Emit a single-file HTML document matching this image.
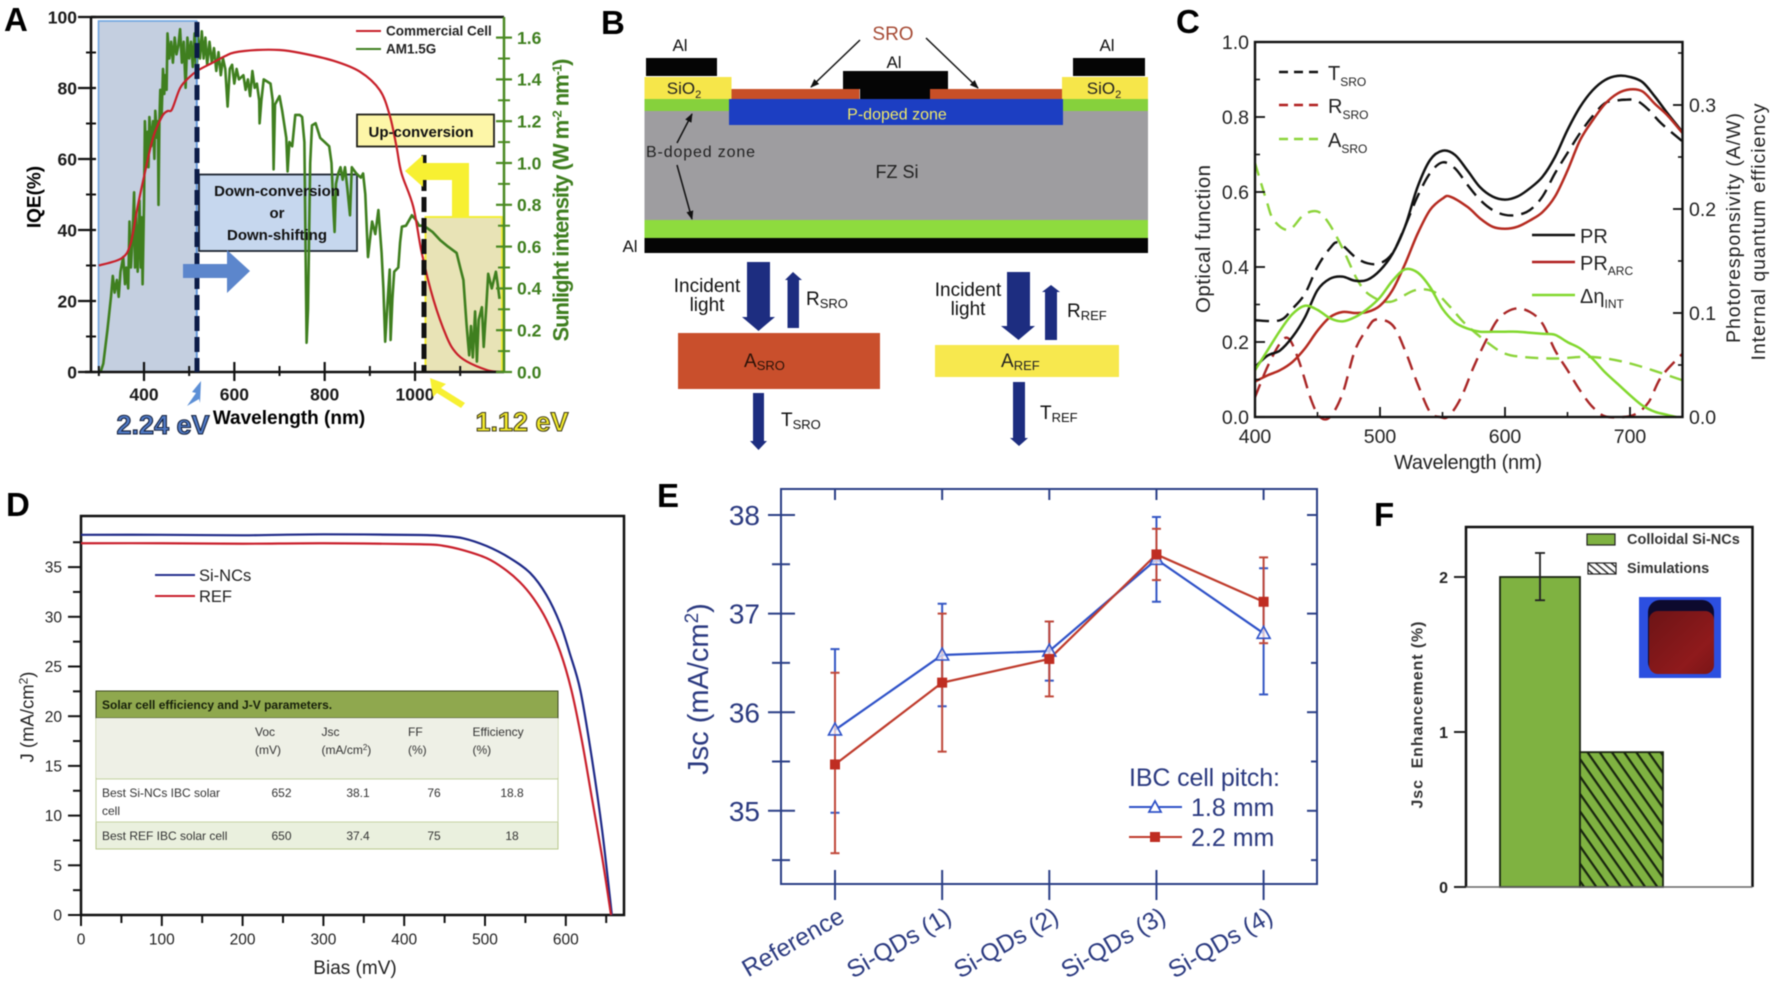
<!DOCTYPE html>
<html lang="en">
<head>
<meta charset="utf-8">
<title>Silicon solar cell spectral conversion figure</title>
<style>
html,body{margin:0;padding:0;background:#fff;width:1772px;height:984px;overflow:hidden}
svg{display:block;font-family:"Liberation Sans",sans-serif;filter:blur(.5px)}
</style>
</head>
<body>
<svg id="fig" xmlns="http://www.w3.org/2000/svg" width="1772" height="984" viewBox="0 0 1772 984">
<defs>
<marker id="ah" markerWidth="9" markerHeight="8" refX="8" refY="4" orient="auto" markerUnits="userSpaceOnUse"><path d="M0,0.5 L9,4 L0,7.5 Z" fill="#111"/></marker>
<pattern id="hatch" width="10" height="10" patternUnits="userSpaceOnUse" patternTransform="rotate(55)"><rect width="10" height="10" fill="#7fb241"/><rect width="10" height="2.200" y="0" fill="#17240e"/></pattern>
<pattern id="hatch2" width="5" height="5" patternUnits="userSpaceOnUse" patternTransform="rotate(40)"><rect width="5" height="5" fill="#fff"/><rect width="5" height="1.500" fill="#333"/></pattern>
<linearGradient id="photoRed" x1="0" y1="0" x2="1" y2="1"><stop offset="0" stop-color="#6d1416"/><stop offset=".7" stop-color="#8f1a1c"/><stop offset="1" stop-color="#7a1517"/></linearGradient>
</defs>

<!-- PANEL A -->
<g id="panelA">
<text x="4" y="31" font-size="33" font-weight="700">A</text>
<rect x="98.500" y="21" width="98" height="351" fill="#c4cfe0" stroke="#6fa5e0" stroke-width="1.600"/>
<rect x="425.500" y="217" width="76.500" height="155" fill="#e8e3b6" stroke="#f3ee35" stroke-width="2"/>
<rect x="199" y="174.500" width="158" height="76.500" fill="#c6d7ee" stroke="#1c2430" stroke-width="1.800"/>
<rect x="357" y="114.500" width="137" height="32" fill="#fdf6a8" stroke="#20201a" stroke-width="1.800"/>
<g id="aSeries"></g>
<line x1="91" y1="17" x2="504" y2="17" stroke="#111" stroke-width="2.500"/>
<line x1="91" y1="17" x2="91" y2="373" stroke="#111" stroke-width="2.500"/>
<line x1="85" y1="372" x2="504" y2="372" stroke="#111" stroke-width="2.500"/>
<line x1="504" y1="17" x2="504" y2="373" stroke="#4a8a22" stroke-width="2.500"/>
<g id="aAxes"></g>
<line x1="197" y1="21" x2="197" y2="372" stroke="#5c8fd6" stroke-width="1.500"/>
<line x1="197" y1="22" x2="197" y2="372" stroke="#0c1c48" stroke-width="5" stroke-dasharray="15 6"/>
<line x1="424" y1="155" x2="424" y2="372" stroke="#111" stroke-width="5" stroke-dasharray="15 6"/>
<polygon points="183,264 227,264 227,250 250,271 227,293 227,278 183,278" fill="#5c86cc"/>
<polygon points="405,171 423,155 423,163 469,163 469,218 452,218 452,180 423,180 423,187" fill="#f7f032"/>
<polygon points="201,381 192,392 196,393 187,406 199,399 200,403" fill="#5c8fd6"/>
<polygon points="430,378 446,384 441,388 465,403 461,408 437,393 433,397" fill="#f7f032"/>
<text x="277" y="196" font-size="15" font-weight="700" text-anchor="middle" fill="#111">Down-conversion</text>
<text x="277" y="218" font-size="15" font-weight="700" text-anchor="middle" fill="#111">or</text>
<text x="277" y="240" font-size="15" font-weight="700" text-anchor="middle" fill="#111">Down-shifting</text>
<text x="421" y="137" font-size="15" font-weight="700" text-anchor="middle" fill="#111">Up-conversion</text>
<text x="34" y="197" font-size="19" font-weight="700" text-anchor="middle" transform="rotate(-90 34 197)" dy=".35em">IQE(%)</text>
<text x="289" y="424" font-size="19" font-weight="700" text-anchor="middle">Wavelength (nm)</text>
<text x="561" y="200" font-size="22" font-weight="700" text-anchor="middle" fill="#3f7f1f" transform="rotate(-90 561 200)" dy=".35em" textLength="283">Sunlight intensity (W m<tspan dy="-7" font-size="13">-2</tspan><tspan dy="7"> nm</tspan><tspan dy="-7" font-size="13">-1</tspan><tspan dy="7">)</tspan></text>
<text x="163" y="434" font-size="27" font-weight="700" text-anchor="middle" fill="#4f79c4" stroke="#16223e" stroke-width="1.100">2.24 eV</text>
<text x="522" y="431" font-size="27" font-weight="700" text-anchor="middle" fill="#f2ea2c" stroke="#44401a" stroke-width="1.100">1.12 eV</text>
<line x1="356" y1="31" x2="381" y2="31" stroke="#c8202a" stroke-width="2"/>
<text x="386" y="35.500" font-size="13.500" font-weight="700" fill="#222">Commercial Cell</text>
<line x1="356" y1="49" x2="381" y2="49" stroke="#3f7f1f" stroke-width="2"/>
<text x="386" y="53.500" font-size="13.500" font-weight="700" fill="#222">AM1.5G</text>
</g>

<!-- PANEL B -->
<g id="panelB">
<text x="601" y="34" font-size="33" font-weight="700">B</text>
<rect x="644.500" y="111" width="503.500" height="109" fill="#9e9da0"/>
<rect x="644.500" y="99" width="85" height="12" fill="#86d13c"/>
<rect x="1062" y="99" width="86" height="12" fill="#86d13c"/>
<rect x="644.500" y="220" width="503.500" height="18" fill="#8edb3e"/>
<rect x="644.500" y="238" width="503.500" height="15" fill="#050505"/>
<rect x="729" y="99" width="334" height="26" fill="#1c3ec2"/>
<rect x="644.500" y="77" width="87" height="22" fill="#f6e64a"/>
<rect x="1062" y="77" width="86" height="22" fill="#f6e64a"/>
<rect x="646" y="58" width="71" height="18" fill="#050505"/>
<rect x="1073" y="58" width="72" height="18" fill="#050505"/>
<rect x="731.500" y="89" width="128" height="10" fill="#c84f27"/>
<rect x="930" y="89" width="132" height="10" fill="#c84f27"/>
<polygon points="843,71 948,71 948,89 930,89 930,99 860,99 860,89 843,89" fill="#050505"/>
<line x1="860" y1="40" x2="811" y2="87" stroke="#111" stroke-width="1.500" marker-end="url(#ah)"/>
<line x1="926" y1="38" x2="978" y2="88" stroke="#111" stroke-width="1.500" marker-end="url(#ah)"/>
<line x1="677" y1="143" x2="692" y2="114" stroke="#111" stroke-width="1.500" marker-end="url(#ah)"/>
<line x1="677" y1="165" x2="692" y2="219" stroke="#111" stroke-width="1.500" marker-end="url(#ah)"/>
<text x="893" y="40" font-size="19" text-anchor="middle" fill="#a64b35">SRO</text>
<text x="680" y="51" font-size="17" text-anchor="middle" fill="#111">Al</text>
<text x="894" y="68" font-size="17" text-anchor="middle" fill="#111">Al</text>
<text x="1107" y="51" font-size="17" text-anchor="middle" fill="#111">Al</text>
<text x="630" y="252" font-size="17" text-anchor="middle" fill="#111">Al</text>
<text x="684" y="94" font-size="17" text-anchor="middle" fill="#222">SiO<tspan dy="4" font-size="11">2</tspan></text>
<text x="1104" y="94" font-size="17" text-anchor="middle" fill="#222">SiO<tspan dy="4" font-size="11">2</tspan></text>
<text x="897" y="119.500" font-size="16" text-anchor="middle" fill="#efe86a">P-doped zone</text>
<text x="646" y="157" font-size="16" fill="#222" textLength="109">B-doped zone</text>
<text x="897" y="178" font-size="18" text-anchor="middle" fill="#222">FZ Si</text>

<polygon points="747,262 770,262 770,317 775,317 758.500,331 742,317 747,317" fill="#1d2d80"/>
<polygon points="787.500,328 799,328 799,280 802,280 793,272 785,280 787.500,280" fill="#1d2d80"/>
<rect x="678" y="333" width="202" height="56" fill="#c94f2c"/>
<polygon points="753,393 764,393 764,441 767,441 758.500,450 750,441 753,441" fill="#1d2d80"/>
<polygon points="1007,272 1030,272 1030,326 1035,326 1018.500,340 1001,326 1007,326" fill="#1d2d80"/>
<polygon points="1045,340 1057,340 1057,292 1060,292 1051,285 1042,292 1045,292" fill="#1d2d80"/>
<rect x="935" y="345" width="184" height="32" fill="#f7e84e"/>
<polygon points="1013,382 1025,382 1025,438 1028,438 1019,446 1010,438 1013,438" fill="#1d2d80"/>
<text x="707" y="292" font-size="19" text-anchor="middle" fill="#111">Incident</text>
<text x="707" y="311" font-size="19" text-anchor="middle" fill="#111">light</text>
<text x="968" y="296" font-size="19" text-anchor="middle" fill="#111">Incident</text>
<text x="968" y="315" font-size="19" text-anchor="middle" fill="#111">light</text>
<text x="806" y="305" font-size="19" fill="#111">R<tspan dy="3" font-size="13">SRO</tspan></text>
<text x="1067" y="317" font-size="19" fill="#111">R<tspan dy="3" font-size="13">REF</tspan></text>
<text x="781" y="426" font-size="19" fill="#111">T<tspan dy="3" font-size="13">SRO</tspan></text>
<text x="1040" y="419" font-size="19" fill="#111">T<tspan dy="3" font-size="13">REF</tspan></text>
<text x="744" y="367" font-size="19" fill="#2a1208">A<tspan dy="3" font-size="13">SRO</tspan></text>
<text x="1001" y="367" font-size="19" fill="#222">A<tspan dy="3" font-size="13">REF</tspan></text>
</g>

<!-- PANEL C -->
<g id="panelC">
<text x="1176" y="33" font-size="33" font-weight="700">C</text>
<g id="cSeries"></g>
<rect x="1255" y="42" width="427.500" height="375" fill="none" stroke="#111" stroke-width="2.400"/>
<g id="cAxes"></g>
<text x="1203" y="239" font-size="20.500" text-anchor="middle" fill="#222" dy=".35em" transform="rotate(-90 1203 239)" textLength="148">Optical function</text>
<text x="1468" y="469" font-size="20" text-anchor="middle" fill="#222" textLength="148">Wavelength (nm)</text>
<text x="1733" y="228" font-size="19.500" text-anchor="middle" fill="#222" dy=".35em" transform="rotate(-90 1733 228)" textLength="230">Photoresponsivity (A/W)</text>
<text x="1758" y="232" font-size="19.500" text-anchor="middle" fill="#222" dy=".35em" transform="rotate(-90 1758 232)" textLength="257">Internal quantum efficiency</text>
<line x1="1279" y1="72" x2="1323" y2="72" stroke="#111" stroke-width="2.400" stroke-dasharray="9 6"/>
<text x="1328" y="80" font-size="20" fill="#222">T<tspan dy="6" font-size="12">SRO</tspan></text>
<line x1="1279" y1="105" x2="1323" y2="105" stroke="#b01f1f" stroke-width="2.400" stroke-dasharray="9 6"/>
<text x="1328" y="113" font-size="20" fill="#222">R<tspan dy="6" font-size="12">SRO</tspan></text>
<line x1="1279" y1="139" x2="1323" y2="139" stroke="#8cd43a" stroke-width="2.400" stroke-dasharray="9 6"/>
<text x="1328" y="147" font-size="20" fill="#222">A<tspan dy="6" font-size="12">SRO</tspan></text>
<line x1="1532" y1="235" x2="1575" y2="235" stroke="#111" stroke-width="2.400"/>
<text x="1580" y="243" font-size="20" fill="#222">PR</text>
<line x1="1532" y1="262" x2="1575" y2="262" stroke="#b01f1f" stroke-width="2.400"/>
<text x="1580" y="270" font-size="20" fill="#222">PR<tspan dy="5" font-size="12">ARC</tspan></text>
<line x1="1532" y1="295" x2="1575" y2="295" stroke="#82d82e" stroke-width="2.400"/>
<text x="1580" y="303" font-size="20" fill="#222">Δη<tspan dy="5" font-size="12">INT</tspan></text>
</g>

<!-- PANEL D -->
<g id="panelD">
<text x="6" y="516" font-size="33" font-weight="700">D</text>
<rect x="81" y="516" width="543" height="399" fill="none" stroke="#111" stroke-width="2.500"/>
<g id="dAxes"></g>
<text x="27" y="717" font-size="18.500" text-anchor="middle" fill="#222" dy=".35em" transform="rotate(-90 27 717)">J (mA/cm<tspan dy="-6" font-size="12">2</tspan><tspan dy="6">)</tspan></text>
<text x="355" y="974" font-size="19" text-anchor="middle" fill="#222">Bias (mV)</text>
<line x1="155" y1="575" x2="195" y2="575" stroke="#27318f" stroke-width="2"/>
<text x="199" y="581" font-size="16.500" fill="#222">Si-NCs</text>
<line x1="155" y1="596" x2="195" y2="596" stroke="#c9202c" stroke-width="2"/>
<text x="199" y="602" font-size="16.500" fill="#222">REF</text>
<g>
<rect x="96" y="691" width="462" height="158" fill="#eaf0de" stroke="#b9c98c" stroke-width="1"/>
<rect x="96" y="691" width="462" height="27" fill="#8fa84e" stroke="#3e4a22" stroke-width="1"/>
<rect x="96" y="718" width="462" height="60" fill="#eef0e6"/>
<rect x="96" y="779" width="462" height="43" fill="#fff" stroke="#c5d3a2" stroke-width="1"/>
<text x="102" y="709" font-size="12" font-weight="700" fill="#17200a">Solar cell efficiency and J-V parameters.</text>
<g font-size="12" fill="#333">
<text x="255" y="736">Voc</text><text x="255" y="754">(mV)</text>
<text x="321.500" y="736">Jsc</text><text x="321.500" y="754">(mA/cm<tspan dy="-4" font-size="8">2</tspan><tspan dy="4">)</tspan></text>
<text x="408" y="736">FF</text><text x="408" y="754">(%)</text>
<text x="472.500" y="736">Efficiency</text><text x="472.500" y="754">(%)</text>
<text x="102" y="797">Best Si-NCs IBC solar</text><text x="102" y="815">cell</text>
<text x="281.500" y="797" text-anchor="middle">652</text><text x="358" y="797" text-anchor="middle">38.1</text><text x="434" y="797" text-anchor="middle">76</text><text x="512" y="797" text-anchor="middle">18.8</text>
<text x="102" y="840">Best REF IBC solar cell</text>
<text x="281.500" y="840" text-anchor="middle">650</text><text x="358" y="840" text-anchor="middle">37.4</text><text x="434" y="840" text-anchor="middle">75</text><text x="512" y="840" text-anchor="middle">18</text>
</g>
</g>
<g id="dSeries"></g>
</g>

<!-- PANEL E -->
<g id="panelE">
<text x="657" y="507" font-size="33" font-weight="700">E</text>
<rect x="781" y="489" width="536" height="395" fill="none" stroke="#2b3f86" stroke-width="2"/>
<g id="eAxes"></g>
<g id="eSeries"></g>
<text x="698" y="689" font-size="29" text-anchor="middle" fill="#2b3a80" dy=".35em" transform="rotate(-90 698 689)">Jsc (mA/cm<tspan dy="-10" font-size="19">2</tspan><tspan dy="10">)</tspan></text>
<text x="1129" y="786" font-size="25" fill="#2b3a80" textLength="151">IBC cell pitch:</text>
<line x1="1129" y1="807" x2="1182" y2="807" stroke="#2f52c8" stroke-width="2"/>
<polygon points="1155,801 1161,812 1149,812" fill="#fff" stroke="#2f52c8" stroke-width="1.800"/>
<text x="1191" y="816" font-size="25" fill="#2b3a80">1.8 mm</text>
<line x1="1129" y1="837" x2="1182" y2="837" stroke="#bf3b2c" stroke-width="2"/>
<rect x="1150" y="832" width="10" height="10" fill="#bf2d22"/>
<text x="1191" y="846" font-size="25" fill="#2b3a80">2.2 mm</text>
</g>

<!-- PANEL F -->
<g id="panelF">
<text x="1374" y="526" font-size="33" font-weight="700">F</text>
<g id="fSeries"></g>
<path d="M1466,887 V527 H1752.500 V887" fill="none" stroke="#111" stroke-width="2.500"/>
<line x1="1466" y1="887" x2="1752.500" y2="887" stroke="#666" stroke-width="1.500"/>
<g id="fAxes"></g>
<text x="1417" y="715" font-size="16" font-weight="700" text-anchor="middle" fill="#333" dy=".35em" transform="rotate(-90 1417 715)" textLength="187">Jsc&#160;&#160;Enhancement (%)</text>
<rect x="1587" y="534" width="28" height="11" fill="#7fb241" stroke="#222" stroke-width="1.200"/>
<text x="1627" y="544" font-size="14.500" font-weight="700" fill="#333">Colloidal Si-NCs</text>
<rect x="1588" y="563" width="28" height="11" fill="url(#hatch2)" stroke="#222" stroke-width="1.200"/>
<text x="1627" y="573" font-size="14.500" font-weight="700" fill="#333">Simulations</text>
<g>
<rect x="1639" y="597" width="82" height="81" fill="#2c4fe0"/>
<rect x="1648" y="600" width="66" height="74" rx="12" fill="#0d0a2e"/>
<rect x="1649" y="611" width="65" height="63" rx="9" fill="url(#photoRed)"/>
</g>
</g>
</svg>

<script>
/* ---------- Panel A data ---------- */
const aTickLeft = [0,20,40,60,80,100];
const aTickLeftMinor = [10,30,50,70,90];
const aTickBottom = [400,600,800,1000];
const aTickBottomMinor = [300,500,700,900,1100];
const aTickRight = [0,0.2,0.4,0.6,0.8,1.0,1.2,1.4,1.6];
const aTickRightMinor = [0.1,0.3,0.5,0.7,0.9,1.1,1.3,1.5];
const aTickRightText = ['0.0','0.2','0.4','0.6','0.8','1.0','1.2','1.4','1.6'];
const iqeWavelength = [300,350,370,385,400,420,440,452,462,480,500,520,550,580,600,650,700,745,819,878,922,944,959,970,996,1015,1041,1070,1090,1114,1158,1185];
const iqeValues = [30,32,36,46,55,66,72,73.5,74,80,83,85,87,89,90,90.7,90.7,89.9,87.7,84.6,79.4,72.3,63.5,56,46.6,33.5,20.3,9.9,5.5,3,0.6,0];
const am15Wavelength = [300,304,310,319,327,331,335,340,344,348,354,358,361,365,368,371,374,378,380,382,386,390,393,395,397,400,402,405,408,410,412,416,420,423,425,429,431,432,434,436,439,442,445,447,450,452,456,460,464,468,472,476,480,484,488,492,496,500,504,508,512,516,520,524,528,532,536,540,545,550,555,560,565,570,575,580,585,590,595,600,605,610,620,625,630,635,640,645,650,655,656,660,665,680,685,687,690,700,706,715,718,722,728,735,745,750,755,760,763,768,772,780,790,800,810,815,820,822,825,830,835,840,845,850,856,860,870,880,885,890,896,900,905,912,919,926,930,934,939,944,946,950,954,963,967,971,980,993,1001,1009,1018,1026,1039,1056,1073,1092,1100,1107,1114,1117,1120,1124,1128,1133,1137,1141,1148,1152,1158,1162,1170,1179,1183,1187];
const am15Irradiance = [0,0,0.04,0.2,0.36,0.46,0.38,0.44,0.36,0.48,0.55,0.42,0.5,0.4,0.72,0.5,0.62,0.86,0.5,0.76,0.48,0.82,0.5,0.74,0.42,0.8,1.2,0.98,1.15,0.98,1.22,1.08,1.2,1.02,1.25,1.12,1.2,0.8,1.2,1.35,1.22,1.45,1.33,1.42,1.35,1.62,1.5,1.58,1.48,1.6,1.52,1.56,1.64,1.48,1.58,1.36,1.6,1.5,1.58,1.46,1.62,1.42,1.6,1.5,1.63,1.5,1.6,1.47,1.58,1.48,1.55,1.44,1.53,1.42,1.5,1.45,1.27,1.45,1.47,1.38,1.45,1.4,1.42,1.35,1.4,1.32,1.44,1.36,1.38,1.3,1.19,1.3,1.4,1.38,1.3,0.97,1.28,1.32,1.25,1.12,0.96,1.1,1.08,1.23,1.23,1.22,1.1,0.14,0.3,1.0,1.18,1.19,1.12,1.1,1.08,1.0,0.75,0.67,0.9,0.95,0.98,0.92,0.98,0.88,0.75,0.98,0.95,0.93,0.95,0.85,0.55,0.63,0.72,0.66,0.775,0.57,0.4,0.145,0.33,0.49,0.153,0.35,0.48,0.5,0.62,0.695,0.70,0.75,0.73,0.7,0.7,0.69,0.67,0.63,0.6,0.57,0.5,0.44,0.23,0.15,0.08,0.22,0.07,0.29,0.05,0.25,0.31,0.12,0.32,0.47,0.4,0.48,0.42,0.35];

/* ---------- Panel C data ---------- */
const cTickX = [400,500,600,700];
const cTickXMinor = [450,550,650];
const cTickLeft = [0,0.2,0.4,0.6,0.8,1.0];
const cTickLeftMinor = [0.1,0.3,0.5,0.7,0.9];
const cTickLeftText = ['0.0','0.2','0.4','0.6','0.8','1.0'];
const cTickRight = [0,0.1,0.2,0.3];
const cTickRightMinor = [0.05,0.15,0.25,0.35];
const cTickRightText = ['0.0','0.1','0.2','0.3'];
const prX = [400,410,420,430,440,450,460,470,480,490,500,510,520,530,540,550,560,570,580,590,600,610,620,630,640,650,660,670,680,690,700,710,720,730,742];
const prValues = [.048,.059,.064,.077,.096,.122,.133,.135,.131,.132,.141,.157,.183,.221,.247,.256,.252,.237,.221,.212,.209,.212,.220,.231,.250,.276,.298,.314,.324,.328,.327,.322,.308,.292,.274];
const prArcX = [400,410,420,430,440,450,460,470,480,490,500,510,520,530,540,550,556,570,580,590,600,610,620,630,640,650,660,670,680,690,700,710,720,730,742];
const prArcValues = [.034,.040,.045,.053,.066,.083,.096,.101,.100,.101,.107,.122,.147,.176,.199,.210,.212,.202,.191,.183,.181,.183,.189,.197,.212,.237,.266,.285,.301,.311,.315,.313,.301,.290,.273];
const deltaEtaX = [400,410,420,430,440,450,460,470,480,490,500,510,520,530,540,550,560,570,580,590,600,610,620,630,640,650,660,670,680,690,700,710,720,730,737];
const deltaEtaValues = [.045,.064,.083,.099,.107,.103,.095,.092,.096,.104,.115,.131,.142,.139,.125,.104,.091,.085,.082,.082,.082,.082,.081,.080,.079,.072,.066,.056,.043,.032,.021,.011,.005,.002,0];
const tSroX = [400,420,430,440,450,460,467,480,490,500,510,520,530,540,550,560,570,580,590,600,610,620,630,640,650,660,670,680,690,695,705,715,725,742];
const tSroValues = [.258,.258,.289,.329,.401,.450,.465,.427,.410,.410,.437,.508,.588,.650,.679,.663,.619,.579,.552,.539,.539,.552,.588,.650,.704,.757,.802,.837,.844,.846,.844,.819,.783,.735];
const rSroX = [400,410,420,427,435,445,452,460,470,480,490,497,510,520,530,540,548,555,565,575,585,595,608,620,630,640,650,660,670,680,695,705,715,725,742];
const rSroValues = [.053,.134,.196,.209,.151,.045,0,0,.062,.178,.236,.260,.245,.178,.089,.013,0,.002,.053,.134,.205,.263,.289,.280,.249,.178,.125,.071,.027,.002,0,.009,.040,.107,.169];
const aSroX = [400,409,415,427,439,450,459,470,482,492,508,528,543,556,568,587,600,615,640,670,701,742];
const aSroValues = [.677,.579,.525,.499,.539,.548,.517,.450,.365,.325,.307,.338,.334,.294,.249,.196,.169,.160,.156,.160,.142,.098];

/* ---------- Panel D data ---------- */
const dTickX = [0,100,200,300,400,500,600];
const dTickXMinor = [50,150,250,350,450,550,650];
const dTickY = [0,5,10,15,20,25,30,35];
const dTickYMinor = [2.5,7.5,12.5,17.5,22.5,27.5,32.5,37.5];
const siNcsBias = [0,100,200,300,420,448,473,502,531,556,576,593,605,618,632,645,657];
const siNcsJ = [38.25,38.25,38.2,38.3,38.23,38.13,37.9,37.12,35.9,34.4,32.2,29.3,26.3,22.6,15.9,8.5,0];
const refBias = [0,100,200,300,420,448,473,502,523,543,560,576,593,607,620,632,645,656];
const refJ = [37.4,37.4,37.35,37.4,37.3,37.15,36.7,35.9,34.87,33.5,31.85,29.7,26.5,22.6,17.5,11.9,5.8,0];

/* ---------- Panel E data ---------- */
const eCategories = ['Reference','Si-QDs (1)','Si-QDs (2)','Si-QDs (3)','Si-QDs (4)'];
const eTickY = [35,36,37,38];
const eTickYMinor = [34.5,35.5,36.5,37.5];
const pitch18Values = [35.82,36.58,36.62,37.55,36.8];
const pitch18Upper = [36.64,37.1,36.92,37.98,37.46];
const pitch18Lower = [34.98,36.06,36.32,37.12,36.18];
const pitch22Values = [35.47,36.3,36.54,37.6,37.12];
const pitch22Upper = [36.4,37.0,36.92,37.86,37.57];
const pitch22Lower = [34.57,35.6,36.16,37.34,36.7];

/* ---------- Panel F data ---------- */
const fTickY = [0,1,2];
const fBarValues = [2.0,0.87];
const fBarNames = ['colloidal-si-ncs-bar','simulations-bar'];
const fErrorUpper = 2.155;
const fErrorLower = 1.85;

/* ---------- Scales ---------- */
const xA = v => 144 + (v-400)*0.4517;
const yAL = v => 372 - v*3.55;
const yAR = v => 372 - v*209;
const xC = v => 1255 + (v-400)*1.25;
const yCL = v => 417 - v*375;
const yCR = v => 417 - v*1040;
const xD = v => 81 + v*0.808;
const yD = v => 915 - v*9.94;
const xE = i => 835 + i*107.15;
const yE = v => 515 + (38-v)*98.6;
const yF = v => 887 - v*155;

/* ---------- Helpers ---------- */
const NS = 'http://www.w3.org/2000/svg';
function mk(tag, attrs, parent){
  const n = document.createElementNS(NS, tag);
  for (const k in attrs) n.setAttribute(k, attrs[k]);
  parent.appendChild(n);
  return n;
}
function smoothPath(xs, ys){
  let d = 'M' + xs[0].toFixed(2) + ',' + ys[0].toFixed(2);
  for (let i=0;i<xs.length-1;i++){
    const x0=xs[Math.max(i-1,0)], y0=ys[Math.max(i-1,0)], x1=xs[i], y1=ys[i], x2=xs[i+1], y2=ys[i+1], x3=xs[Math.min(i+2,xs.length-1)], y3=ys[Math.min(i+2,xs.length-1)];
    d += 'C'+(x1+(x2-x0)/6).toFixed(2)+','+(y1+(y2-y0)/6).toFixed(2)+' '+(x2-(x3-x1)/6).toFixed(2)+','+(y2-(y3-y1)/6).toFixed(2)+' '+x2.toFixed(2)+','+y2.toFixed(2);
  }
  return d;
}
function drawCurve(parent, xv, yv, sx, sy, style, curveName){
  const el = mk('path', Object.assign({d:smoothPath(xv.map(sx), yv.map(sy)), fill:'none'}, style), parent);
  
  
  return el;
}
function hTicks(parent, vals, scale, x1, x2, color, w, tickName){
  vals.forEach(v => {
    const el = mk('line', {x1:x1, x2:x2, y1:scale(v), y2:scale(v), stroke:color, 'stroke-width':w}, parent);
    
    
  });
}
function vTicks(parent, vals, scale, y1, y2, color, w, tickName){
  vals.forEach(v => {
    const el = mk('line', {y1:y1, y2:y2, x1:scale(v), x2:scale(v), stroke:color, 'stroke-width':w}, parent);
    
    
  });
}
function yLabels(parent, vals, texts, scale, x, anchor, style, labelName){
  vals.forEach((v,i) => {
    const el = mk('text', Object.assign({x:x, y:scale(v), dy:'.36em', 'text-anchor':anchor}, style), parent);
    el.textContent = texts[i];
    
    
  });
}
function xLabels(parent, vals, texts, scale, y, style, labelName){
  vals.forEach((v,i) => {
    const el = mk('text', Object.assign({x:scale(v), y:y, dy:'.36em', 'text-anchor':'middle'}, style), parent);
    el.textContent = texts[i];
    
    
  });
}

/* ---------- Panel A ---------- */
const aSeries = document.getElementById('aSeries');
const aAxes = document.getElementById('aAxes');
const am15Line = mk('polyline', {points:am15Wavelength.map((w,i)=>xA(w).toFixed(1)+','+yAR(am15Irradiance[i]).toFixed(1)).join(' '), fill:'none', stroke:'#3f7f1f', 'stroke-width':2.6, 'stroke-linejoin':'round'}, aSeries);


drawCurve(aSeries, iqeWavelength, iqeValues, xA, yAL, {stroke:'#c8202a','stroke-width':2.2}, 'commercial-cell-iqe-line');
hTicks(aAxes, aTickLeft, yAL, 78, 96, '#111', 2.2, 'iqe-major-tick');
hTicks(aAxes, aTickLeftMinor, yAL, 86, 96, '#111', 2, 'iqe-minor-tick');
vTicks(aAxes, aTickBottom, xA, 362, 381, '#111', 2.2, 'wavelength-major-tick');
vTicks(aAxes, aTickBottomMinor, xA, 366, 376, '#111', 2, 'wavelength-minor-tick');
hTicks(aAxes, aTickRight, yAR, 496, 512, '#4a8a22', 2.2, 'sunlight-major-tick');
hTicks(aAxes, aTickRightMinor, yAR, 498, 510, '#4a8a22', 2, 'sunlight-minor-tick');
const boldA = {'font-size':17.5,'font-weight':700,fill:'#1a1a1a'};
yLabels(aAxes, aTickLeft, aTickLeft.map(String), yAL, 77, 'end', boldA, 'iqe-tick-label');
xLabels(aAxes, aTickBottom, aTickBottom.map(String), xA, 394, boldA, 'wavelength-tick-label');
yLabels(aAxes, aTickRight, aTickRightText, yAR, 517, 'start', {'font-size':17.5,'font-weight':700,fill:'#3f7f1f'}, 'sunlight-tick-label');

/* ---------- Panel C ---------- */
const cSeries = document.getElementById('cSeries');
const cAxes = document.getElementById('cAxes');
drawCurve(cSeries, aSroX, aSroValues, xC, yCL, {stroke:'#8cd43a','stroke-width':2.4,'stroke-dasharray':'13 8'}, 'a-sro-line');
drawCurve(cSeries, rSroX, rSroValues, xC, yCL, {stroke:'#a92626','stroke-width':2.4,'stroke-dasharray':'14 8'}, 'r-sro-line');
drawCurve(cSeries, tSroX, tSroValues, xC, yCL, {stroke:'#111','stroke-width':2.4,'stroke-dasharray':'14 8'}, 't-sro-line');
drawCurve(cSeries, prX, prValues, xC, yCR, {stroke:'#111','stroke-width':2.5}, 'pr-line');
drawCurve(cSeries, prArcX, prArcValues, xC, yCR, {stroke:'#b52a20','stroke-width':2.5}, 'pr-arc-line');
drawCurve(cSeries, deltaEtaX, deltaEtaValues, xC, yCR, {stroke:'#82d82e','stroke-width':2.5}, 'delta-eta-line');
hTicks(cAxes, cTickLeft, yCL, 1255, 1265, '#111', 1.8, 'optical-major-tick');
hTicks(cAxes, cTickLeftMinor, yCL, 1255, 1260, '#111', 1.6, 'optical-minor-tick');
hTicks(cAxes, cTickRight, yCR, 1673, 1682.5, '#111', 1.8, 'photoresponsivity-major-tick');
hTicks(cAxes, cTickRightMinor, yCR, 1678, 1682.5, '#111', 1.6, 'photoresponsivity-minor-tick');
vTicks(cAxes, cTickX, xC, 407, 417, '#111', 1.8, 'panel-c-major-x-tick');
vTicks(cAxes, cTickXMinor, xC, 412, 417, '#111', 1.6, 'panel-c-minor-x-tick');
const regC = {'font-size':19.5,fill:'#222'};
yLabels(cAxes, cTickLeft, cTickLeftText, yCL, 1249, 'end', regC, 'optical-tick-label');
yLabels(cAxes, cTickRight, cTickRightText, yCR, 1689, 'start', regC, 'photoresponsivity-tick-label');
xLabels(cAxes, cTickX, cTickX.map(String), xC, 436, regC, 'panel-c-x-tick-label');

/* ---------- Panel D ---------- */
const dSeries = document.getElementById('dSeries');
const dAxes = document.getElementById('dAxes');
hTicks(dAxes, dTickY, yD, 68, 81, '#111', 2, 'j-major-tick');
hTicks(dAxes, dTickYMinor, yD, 73, 81, '#111', 2, 'j-minor-tick');
vTicks(dAxes, dTickX, xD, 915, 926, '#111', 2, 'bias-major-tick');
vTicks(dAxes, dTickXMinor, xD, 915, 923, '#111', 2, 'bias-minor-tick');
const regD = {'font-size':15.5,fill:'#222'};
yLabels(dAxes, dTickY, dTickY.map(String), yD, 62, 'end', regD, 'j-tick-label');
xLabels(dAxes, dTickX, dTickX.map(String), xD, 939, regD, 'bias-tick-label');
drawCurve(dSeries, siNcsBias, siNcsJ, xD, yD, {stroke:'#1f2a88','stroke-width':2.2}, 'si-ncs-jv-line');
drawCurve(dSeries, refBias, refJ, xD, yD, {stroke:'#c9202c','stroke-width':2.2}, 'ref-jv-line');

/* ---------- Panel E ---------- */
const eSeries = document.getElementById('eSeries');
const eAxes = document.getElementById('eAxes');
const navy = '#2b3f86';
hTicks(eAxes, eTickY, yE, 768, 795, navy, 2, 'jsc-major-tick');
hTicks(eAxes, eTickYMinor, yE, 772, 790, navy, 2, 'jsc-minor-tick');
hTicks(eAxes, eTickY, yE, 1307, 1317, navy, 2, 'jsc-right-major-tick');
hTicks(eAxes, eTickYMinor, yE, 1311, 1317, navy, 2, 'jsc-right-minor-tick');
const eIdx = eCategories.map((c,i)=>i);
vTicks(eAxes, eIdx, xE, 870, 900, navy, 2, 'category-tick');
vTicks(eAxes, eIdx, xE, 489, 500, navy, 2, 'category-top-tick');
yLabels(eAxes, eTickY, eTickY.map(String), yE, 760, 'end', {'font-size':28,fill:'#2b3a80'}, 'jsc-tick-label');
eCategories.forEach((c,i) => {
  const ax = xE(i) + 11, ay = 921;
  const el = mk('text', {x:ax, y:ay, 'text-anchor':'end', 'font-size':24.5, fill:'#2b3a80', transform:'rotate(-30 '+ax+' '+ay+')'}, eAxes);
  el.textContent = c;
  
  
});
function errorBars(vals, up, lo, color, barName){
  vals.forEach((v,i) => {
    const x = xE(i);
    const s = mk('line', {x1:x, x2:x, y1:yE(up[i]), y2:yE(lo[i]), stroke:color, 'stroke-width':2}, eSeries);
    
    
    const t = mk('line', {x1:x-4.5, x2:x+4.5, y1:yE(up[i]), y2:yE(up[i]), stroke:color, 'stroke-width':2}, eSeries);
    
    
    const b = mk('line', {x1:x-4.5, x2:x+4.5, y1:yE(lo[i]), y2:yE(lo[i]), stroke:color, 'stroke-width':2}, eSeries);
    
    
  });
}
errorBars(pitch18Values, pitch18Upper, pitch18Lower, '#3557c4', 'pitch-1-8-error-bar');
errorBars(pitch22Values, pitch22Upper, pitch22Lower, '#c0483a', 'pitch-2-2-error-bar');
const l18 = mk('polyline', {points:pitch18Values.map((v,i)=>xE(i)+','+yE(v)).join(' '), fill:'none', stroke:'#2f52c8','stroke-width':2.2}, eSeries);


const l22 = mk('polyline', {points:pitch22Values.map((v,i)=>xE(i)+','+yE(v)).join(' '), fill:'none', stroke:'#bf3b2c','stroke-width':2.2}, eSeries);


pitch18Values.forEach((v,i) => {
  const x = xE(i), y = yE(v);
  const m = mk('polygon', {points:x+','+(y-7)+' '+(x+6.5)+','+(y+5)+' '+(x-6.5)+','+(y+5), fill:'#f2f4ff','fill-opacity':.7, stroke:'#2f52c8','stroke-width':1.6}, eSeries);
  
  
});
pitch22Values.forEach((v,i) => {
  const x = xE(i), y = yE(v);
  const m = mk('rect', {x:x-5, y:y-5, width:10, height:10, fill:'#bf2d22'}, eSeries);
  
  
});

/* ---------- Panel F ---------- */
const fSeries = document.getElementById('fSeries');
const fAxes = document.getElementById('fAxes');
const fBarX = [1500,1580];
const fBarW = [80,83];
fBarValues.forEach((v,i) => {
  const r = mk('rect', {x:fBarX[i], y:yF(v), width:fBarW[i], height:yF(0)-yF(v), fill:i===0?'#7fb241':'url(#hatch)', stroke:'#1a2412','stroke-width':1.8}, fSeries);
  
  
});
const fErr = mk('line', {x1:1540, x2:1540, y1:yF(fErrorUpper), y2:yF(fErrorLower), stroke:'#222','stroke-width':1.8}, fSeries);


[fErrorUpper, fErrorLower].forEach(v => {
  const c = mk('line', {x1:1535, x2:1545, y1:yF(v), y2:yF(v), stroke:'#222','stroke-width':1.8}, fSeries);
  
  
});
hTicks(fAxes, fTickY, yF, 1454, 1466, '#222', 2, 'enhancement-tick');
yLabels(fAxes, fTickY, fTickY.map(String), yF, 1448, 'end', {'font-size':16,'font-weight':700,fill:'#222'}, 'enhancement-tick-label');
</script>
</body>
</html>
